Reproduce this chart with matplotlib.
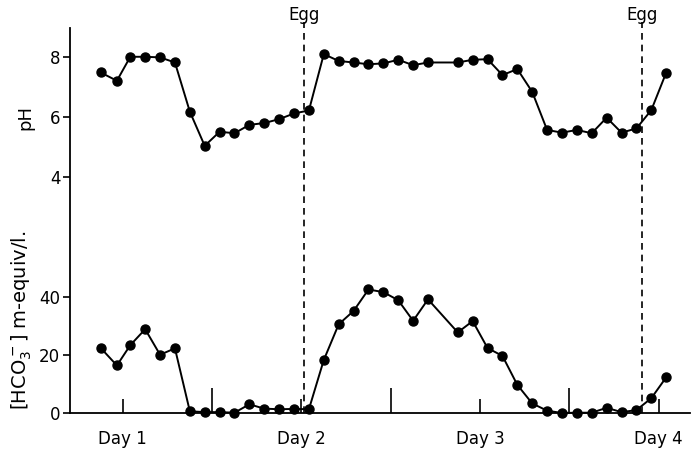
import numpy as np
import matplotlib.pyplot as plt

# sampling times, hours after the "Day 1" mark
hours = [-3, -0.8, 1, 3, 5, 7, 9, 11, 13, 15, 17, 19, 21, 23, 25, 27, 29, 31, 33,
         35, 37, 39, 41, 45, 47, 49, 51, 53, 55, 57, 59, 61, 63, 65, 67, 69, 71, 73]

ph = [7.49, 7.21, 8.01, 8.01, 7.99, 7.82, 6.18, 5.04, 5.51, 5.46, 5.74, 5.80, 5.93,
      6.12, 6.22, 8.10, 7.87, 7.82, 7.76, 7.79, 7.91, 7.73, 7.82, 7.82, 7.91, 7.93,
      7.40, 7.60, 6.84, 5.57, 5.48, 5.57, 5.46, 5.98, 5.48, 5.62, 6.23, 7.48]

hco3 = [22.5, 16.4, 23.4, 28.9, 20.1, 22.3, 0.6, 0.3, 0.3, 0.1, 3.0, 1.5, 1.3, 1.4,
        1.3, 18.3, 30.6, 35.2, 42.6, 41.7, 38.9, 31.8, 39.2, 27.8, 31.7, 22.4, 19.7,
        9.7, 3.3, 0.8, 0.0, 0.1, 0.1, 1.8, 0.3, 1.0, 5.1, 12.3]

day_hours = [0, 24, 48, 72]
day_labels = ['Day 1', 'Day 2', 'Day 3', 'Day 4']
half_day_hours = [12, 36, 60]
egg_hours = [24.3, 69.8]

W, H = 693, 451
fig = plt.figure(figsize=(W / 100, H / 100), dpi=100)
pos = [70 / W, (H - 413) / H, (690 - 70) / W, (413 - 28) / H]

# bicarbonate axes (also carries the time axis)
ax = fig.add_axes(pos)
ax.plot(hours, hco3, color='black', lw=1.4, marker='o', ms=6.5, clip_on=False)
ax.set_xlim(-7.1, 76.2)
ax.set_ylim(0, 132.8)
ax.set_yticks([0, 20, 40])
ax.set_xticks(day_hours)
ax.set_xticklabels(day_labels)
ax.set_xticks(half_day_hours, minor=True)
ax.tick_params(axis='x', which='major', direction='in', length=10, width=1.2,
               labelsize=12, pad=12)
ax.tick_params(axis='x', which='minor', direction='in', length=18, width=1.2)
ax.tick_params(axis='y', direction='out', length=5, width=1.2, labelsize=12, pad=2)
for s in ['top', 'right']:
    ax.spines[s].set_visible(False)
ax.spines['left'].set_linewidth(1.3)
ax.spines['bottom'].set_linewidth(1.3)

# pH axes overlaid on the same box
ax2 = fig.add_axes(pos)
ax2.patch.set_visible(False)
ax2.plot(hours, ph, color='black', lw=1.4, marker='o', ms=6.5)
ax2.set_xlim(ax.get_xlim())
ax2.set_ylim(-3.87, 8.97)
ax2.set_yticks([4, 6, 8])
ax2.tick_params(axis='y', direction='out', length=5, width=1.2, labelsize=12, pad=2)
ax2.set_xticks([])
for s in ax2.spines.values():
    s.set_visible(False)

# egg laying markers
for eh in egg_hours:
    ax.axvline(eh, ymin=0, ymax=1.016, color='black', lw=1.2, ls=(0, (4, 3)),
               clip_on=False)
    ax.text(eh, 1.034, 'Egg', transform=ax.get_xaxis_transform(), ha='center',
            va='center', fontsize=12)

fig.text(25 / W, 1 - 117 / H, 'pH', rotation=90, ha='center', va='center',
         fontsize=13)
fig.text(22 / W, 1 - 320 / H, r'[HCO$_3^-$] m-equiv/l.', rotation=90,
         ha='center', va='center', fontsize=14)

fig.savefig('out.png', dpi=100)
